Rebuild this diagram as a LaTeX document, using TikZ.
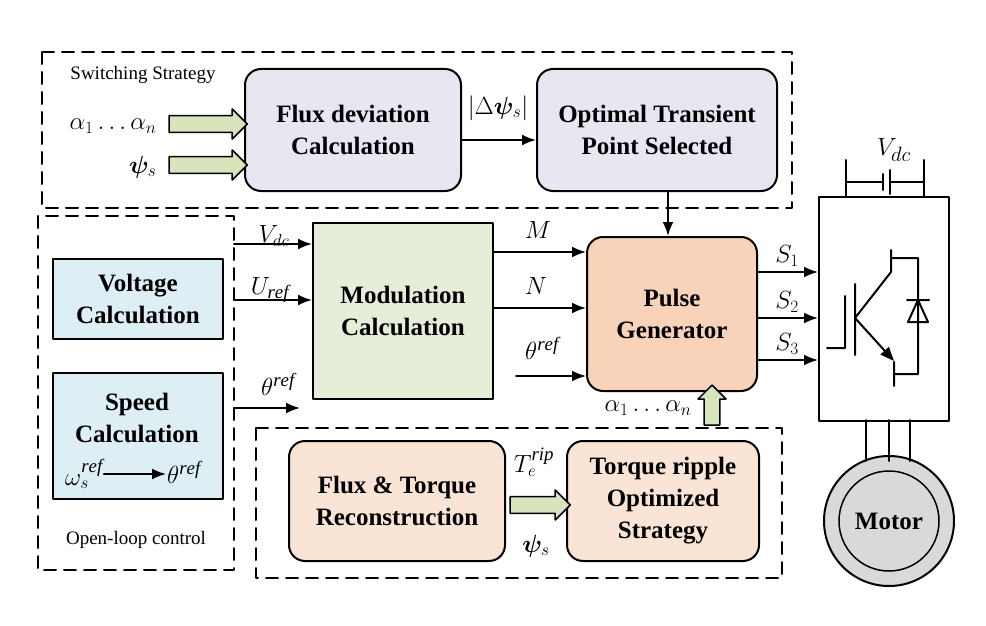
\documentclass[tikz,border=0pt]{standalone}
\usepackage{amsmath}
\usepackage{amssymb}
\usepackage{bm}
\usepackage{fontspec}
\setmainfont{Liberation Serif}
\usetikzlibrary{arrows,arrows.meta,shapes.arrows}
\definecolor{lavender}{RGB}{232,230,240}
\definecolor{lightblue}{RGB}{221,238,245}
\definecolor{lightgreen}{RGB}{230,238,218}
\definecolor{peach}{RGB}{248,211,186}
\definecolor{lightpeach}{RGB}{250,228,214}
\definecolor{fatgreen}{RGB}{216,228,188}
\begin{document}
\begin{tikzpicture}[line cap=round,line join=round,x=1pt,y=-1pt,
  blk/.style={draw,line width=2pt,rounded corners=16pt,align=center,font=\fontsize{25}{32}\selectfont\bfseries,anchor=north west},
  grp/.style={draw,line width=2pt,dash pattern=on 12pt off 8pt},
  sig/.style={line width=2pt,-{Latex[length=14pt,width=11pt]}},
  fat/.style={draw,line width=1.5pt,fill=fatgreen,single arrow,single arrow head extend=6pt,minimum height=#1,inner sep=7pt,single arrow tip angle=90},
  lbl/.style={font=\fontsize{27}{32}\selectfont}]
\useasboundingbox (0,0) rectangle (986,626);
% dashed groups
\draw [grp] (42,52) rectangle (792,208);
\draw [grp] (38,216) rectangle (234,570);
\draw [grp] (256,428) rectangle (782,578);
\node[lbl,font=\fontsize{19}{22}\selectfont] at (143,75) {Switching Strategy};
\node[lbl,font=\fontsize{19}{22}\selectfont] at (136,540) {Open-loop control};
% blocks
\node[blk,fill=lavender,minimum width=216pt,minimum height=122pt] (flux) at (244,68) {Flux deviation\\Calculation};
\node[blk,fill=lavender,minimum width=240pt,minimum height=122pt] (opt) at (536,68) {Optimal Transient\\Point Selected};
\node[blk,rounded corners=0pt,fill=lightblue,minimum width=170pt,minimum height=80pt] (volt) at (52,258) {Voltage\\Calculation};
\node[blk,rounded corners=0pt,fill=lightblue,minimum width=170pt,minimum height=126pt,anchor=north west] (speed) at (52,372) {};
\node[lbl,font=\fontsize{25}{32}\selectfont\bfseries,align=center,inner sep=0pt] at (137,418) {Speed\\Calculation};
\node[lbl,inner sep=1pt] (om) at (84,474) {$\omega_s^{\mathit{ref}}$};
\node[lbl,inner sep=1pt] (th) at (184,472) {$\theta^{\mathit{ref}}$};
\draw [sig] (om.east |- 0,474) -- (th.west |- 0,474);
\node[blk,rounded corners=0pt,fill=lightgreen,minimum width=180pt,minimum height=176pt] (mod) at (312,222) {Modulation\\Calculation};
\node[blk,fill=peach,minimum width=170pt,minimum height=154pt] (pulse) at (586,236) {Pulse\\Generator};
\node[blk,fill=lightpeach,minimum width=216pt,minimum height=120pt] (recon) at (288,440) {Flux \& Torque\\Reconstruction};
\node[blk,fill=lightpeach,minimum width=192pt,minimum height=120pt] (ripple) at (566,440) {Torque ripple\\Optimized\\Strategy};
% switching strategy signals
\node[fat=78pt,minimum width=30pt] (fa) at (204,124) {};
\node[fat=78pt,minimum width=30pt] (fb) at (204,165) {};
\node[lbl,anchor=east] at (160,126) {$\alpha_1\ldots\alpha_n$};
\node[lbl,anchor=east] at (160,167) {$\bm{\psi}_s$};
\draw [sig] (flux.east |- 0,140) -- (opt.west |- 0,140);
\node[lbl] at (498,108) {$\left|\Delta\bm{\psi}_s\right|$};
\draw [sig] (opt.south -| 668,0) -- (pulse.north -| 668,0);
% modulation inputs
\coordinate (vin) at (234,244);
\coordinate (uin) at (234,300);
\coordinate (tin) at (234,408);
\coordinate (tend) at (300,408);
\draw [sig] (vin) -- (mod.west |- vin);
\draw [sig] (uin) -- (mod.west |- uin);
\draw [sig] (tin) -- (tend);
\node[lbl] at (274,236) {$V_{dc}$};
\node[lbl] at (270,290) {$U_{\mathit{ref}}$};
\node[lbl] at (278,384) {$\theta^{\mathit{ref}}$};
% pulse inputs
\coordinate (tp) at (516,376);
\draw [sig] (mod.east |- 0,252) -- (pulse.west |- 0,252);
\draw [sig] (mod.east |- 0,308) -- (pulse.west |- 0,308);
\draw [sig] (tp) -- (pulse.west |- tp);
\node[lbl] at (538,230) {$M$};
\node[lbl] at (536,286) {$N$};
\node[lbl] at (542,348) {$\theta^{\mathit{ref}}$};
% bottom group arrows
\node[fat=60pt,minimum width=30pt] (fc) at (536,505) {};
\node[lbl] at (534,462) {$T_e^{\mathit{rip}}$};
\node[lbl] at (536,546) {$\bm{\psi}_s$};
\node[fat=40pt,minimum width=28pt,rotate=90] (fd) at (712,409) {};
\node[lbl,font=\fontsize{24}{28}\selectfont] at (648,408) {$\alpha_1\ldots\alpha_n$};
% inverter
\node[draw,line width=2pt,minimum width=130pt,minimum height=224pt,anchor=north west] (inv) at (818,196) {};
\foreach \y/\i in {272/1,318/2,360/3}{
  \draw [sig] (pulse.east |- 0,\y) -- (inv.west |- 0,\y);
  \node[lbl,font=\fontsize{24}{28}\selectfont] at (787,\y-16) {$S_\i$};
}
\draw [line width=2pt] (846,196) -- (846,160) (846,182) -- (883,182) (883,174) -- (883,190);
\draw [line width=2pt] (924,196) -- (924,160) (924,182) -- (890,182) (890,170) -- (890,194);
\node[lbl,font=\fontsize{30}{34}\selectfont] at (894,150) {$V_{dc}$};
% igbt
\draw [line width=2pt] (827,348) -- (845,348) -- (845,296) (855,284) -- (855,355)
  (855,318) -- (891,272) -- (891,250) (891,258) -- (918,258) -- (918,374) -- (894,374) (894,362) -- (894,386);
\draw [line width=2pt,-{Triangle[length=14pt,width=11pt]}] (855,318) -- (894,361);
\draw [line width=2pt] (907,300) -- (929,300) (918,300) -- (908,322) -- (928,322) -- cycle;
% motor
\node[circle,draw,line width=2pt,fill=gray!30,minimum size=130pt] (motor) at (889,521) {};
\node[circle,draw,line width=1.5pt,minimum size=100pt,font=\fontsize{25}{30}\selectfont\bfseries] at (motor) {Motor};
\foreach \x in {866,889,910}
  \draw [line width=2pt] (\x,420) -- (\x,461);
\end{tikzpicture}
\end{document}
